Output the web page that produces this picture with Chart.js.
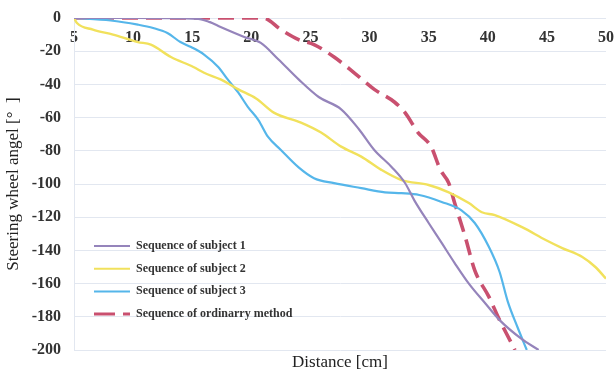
<!DOCTYPE html>
<html>
<head>
<meta charset="utf-8">
<script src="https://cdn.jsdelivr.net/npm/chart.js@4.4.1/dist/chart.umd.min.js"></script>
<style>
  html, body { margin: 0; padding: 0; background: #ffffff; }
  #wrap { width: 616px; height: 369px; }
</style>
</head>
<body>
<div id="wrap"><canvas id="myChart" width="616" height="369"></canvas></div>
<script>
// distance [cm] / steering wheel angle [deg] for each run
const subject1X = [5, 10, 15.5, 16.5, 17.4, 19.4, 20.8, 22.3, 24.0, 25.7, 27.6, 29.1, 30.4, 31.9, 33.0, 33.8, 35.0, 36.1, 37.2, 38.4, 39.8, 41.0, 42.8, 44.3];
const subject1Y = [0, 0, -0.5, -2.5, -5.4, -11.4, -15, -25, -37, -47.6, -55, -67, -79.5, -90, -99.4, -110, -123.5, -135.5, -147.6, -160, -172, -182, -193, -200];

const subject2X = [5, 5.25, 6.6, 8.3, 10.4, 11.5, 13.2, 15.1, 16.0, 17.4, 18.9, 20.4, 21.9, 24.2, 25.9, 27.6, 29.3, 31.0, 32.7, 35.0, 36.7, 38.4, 39.5, 40.6, 42.9, 44.9, 46.3, 48.0, 49.1, 50];
const subject2Y = [0, -3, -7, -10, -14.5, -16, -23.5, -29.5, -33, -37, -43, -48.5, -57, -63, -69, -77.5, -83.5, -91.5, -97.6, -100.6, -105, -111.5, -117, -118.7, -126, -133.7, -138.6, -144, -150, -157];

const subject3X = [5, 8.1, 10.4, 11.7, 12.9, 14.0, 14.9, 16.0, 17.2, 18.0, 18.9, 19.7, 20.6, 21.4, 22.5, 24.0, 25.3, 27.0, 29.3, 31.3, 32.7, 34.2, 36.1, 37.8, 38.9, 40.1, 41.0, 41.7, 42.5, 43.3];
const subject3Y = [0, -1.5, -4, -6, -9, -14.5, -17.5, -22, -29.5, -37, -45, -53.5, -61.5, -71.5, -79.5, -90, -96.5, -99.5, -102.5, -105, -105.5, -106.6, -110.8, -116, -123.5, -138, -153, -171, -186, -200];

const ordinaryX = [5, 21.0, 22.5, 24.0, 25.3, 27.0, 28.7, 30.4, 32.1, 33.0, 34.1, 35.2, 36.0, 36.7, 37.2, 38.1, 38.9, 40.1, 41.0, 41.5, 42.3];
const ordinaryY = [0, 0, -7, -13, -16, -23.5, -33, -43, -50.6, -57, -69, -77.5, -91.6, -99.5, -111.5, -132, -152, -168, -182, -189, -200];

const seriesLabels = [
  "Sequence of subject 1",
  "Sequence of subject 2",
  "Sequence of subject 3",
  "Sequence of ordinarry method",
];

const distanceTicks = [5, 10, 15, 20, 25, 30, 35, 40, 45, 50];

function toPoints(xs, ys) {
  return xs.map(function (x, i) {
    return { x: x, y: ys[i] };
  });
}

// legend drawn inside the plot, lower left
const innerLegend = {
  id: "innerLegend",
  afterDraw: function (chart, args, opts) {
    const ctx = chart.ctx;
    ctx.save();
    ctx.font = opts.font;
    ctx.textBaseline = "middle";
    ctx.fillStyle = opts.color;
    chart.data.datasets.forEach(function (ds, i) {
      const y = opts.top + i * opts.rowHeight;
      ctx.beginPath();
      ctx.strokeStyle = ds.borderColor;
      ctx.lineWidth = ds.borderDash ? 3 : 2;
      ctx.setLineDash(ds.borderDash ? [21, 8] : []);
      ctx.moveTo(opts.left, y);
      ctx.lineTo(opts.left + opts.lineLength, y);
      ctx.stroke();
      ctx.setLineDash([]);
      ctx.fillText(ds.label, opts.left + opts.lineLength + 6, y);
    });
    ctx.restore();
  },
};

var data = {
  datasets: [
    {
      label: seriesLabels[0],
      data: toPoints(subject1X, subject1Y),
      borderColor: "#9584bb",
      borderWidth: 2.2,
    },
    {
      label: seriesLabels[1],
      data: toPoints(subject2X, subject2Y),
      borderColor: "#f1e15c",
      borderWidth: 2.4,
    },
    {
      label: seriesLabels[2],
      data: toPoints(subject3X, subject3Y),
      borderColor: "#55b6ea",
      borderWidth: 2.2,
    },
    {
      label: seriesLabels[3],
      data: toPoints(ordinaryX, ordinaryY),
      borderColor: "#c9506f",
      borderWidth: 3.6,
      borderDash: [16, 8],
    },
  ],
};

var config = {
  type: "line",
  data: data,
  options: {
    responsive: false,
    animation: false,
    layout: {
      padding: { left: 0, right: 10, top: 18, bottom: 0 },
    },
    elements: {
      point: { radius: 0 },
      line: { cubicInterpolationMode: "monotone", fill: false },
    },
    plugins: {
      legend: { display: false },
      tooltip: { enabled: false },
      innerLegend: {
        left: 94,
        top: 246,
        rowHeight: 22.7,
        lineLength: 36,
        font: "bold 12px 'Liberation Serif'",
        color: "#333333",
      },
    },
    scales: {
      x: {
        type: "linear",
        min: 5,
        max: 50,
        position: "bottom",
        ticks: { display: false },
        grid: { display: false },
        border: { display: false },
        title: {
          display: true,
          text: "Distance [cm]",
          color: "#222222",
          font: { family: "'Liberation Serif'", size: 17 },
          padding: { top: 0, bottom: -4 },
        },
        afterFit: function (scale) {
          scale.height = 19;
        },
      },
      // tick labels hang just under the zero line
      xTicks: {
        type: "linear",
        axis: "x",
        min: 5,
        max: 50,
        position: { y: 0 },
        afterBuildTicks: function (scale) {
          scale.ticks = distanceTicks.map(function (v) {
            return { value: v };
          });
        },
        ticks: {
          color: "#333333",
          padding: 10,
          font: { family: "'Liberation Serif'", size: 16, weight: "bold" },
        },
        grid: { display: false, drawTicks: false },
        border: { display: false },
        afterFit: function (scale) {
          scale.paddingLeft = 0;
          scale.paddingRight = 0;
        },
      },
      y: {
        min: -200,
        max: 0,
        ticks: {
          stepSize: 20,
          color: "#333333",
          padding: 13,
          font: { family: "'Liberation Serif'", size: 16, weight: "bold" },
        },
        grid: { color: "#e2e7f0", lineWidth: 1, drawTicks: false },
        border: { color: "#e2e7f0" },
        title: {
          display: true,
          text: "Steering wheel angel [°  ]",
          color: "#222222",
          font: { family: "'Liberation Serif'", size: 17 },
          padding: { top: 3, bottom: 0 },
        },
        afterFit: function (scale) {
          scale.width = 74;
          // the outer labels may overhang the plot edges
          scale.paddingTop = 0;
          scale.paddingBottom = 0;
        },
      },
    },
  },
  plugins: [innerLegend],
};

const myChart = new Chart(document.getElementById("myChart"), config);
</script>
</body>
</html>
